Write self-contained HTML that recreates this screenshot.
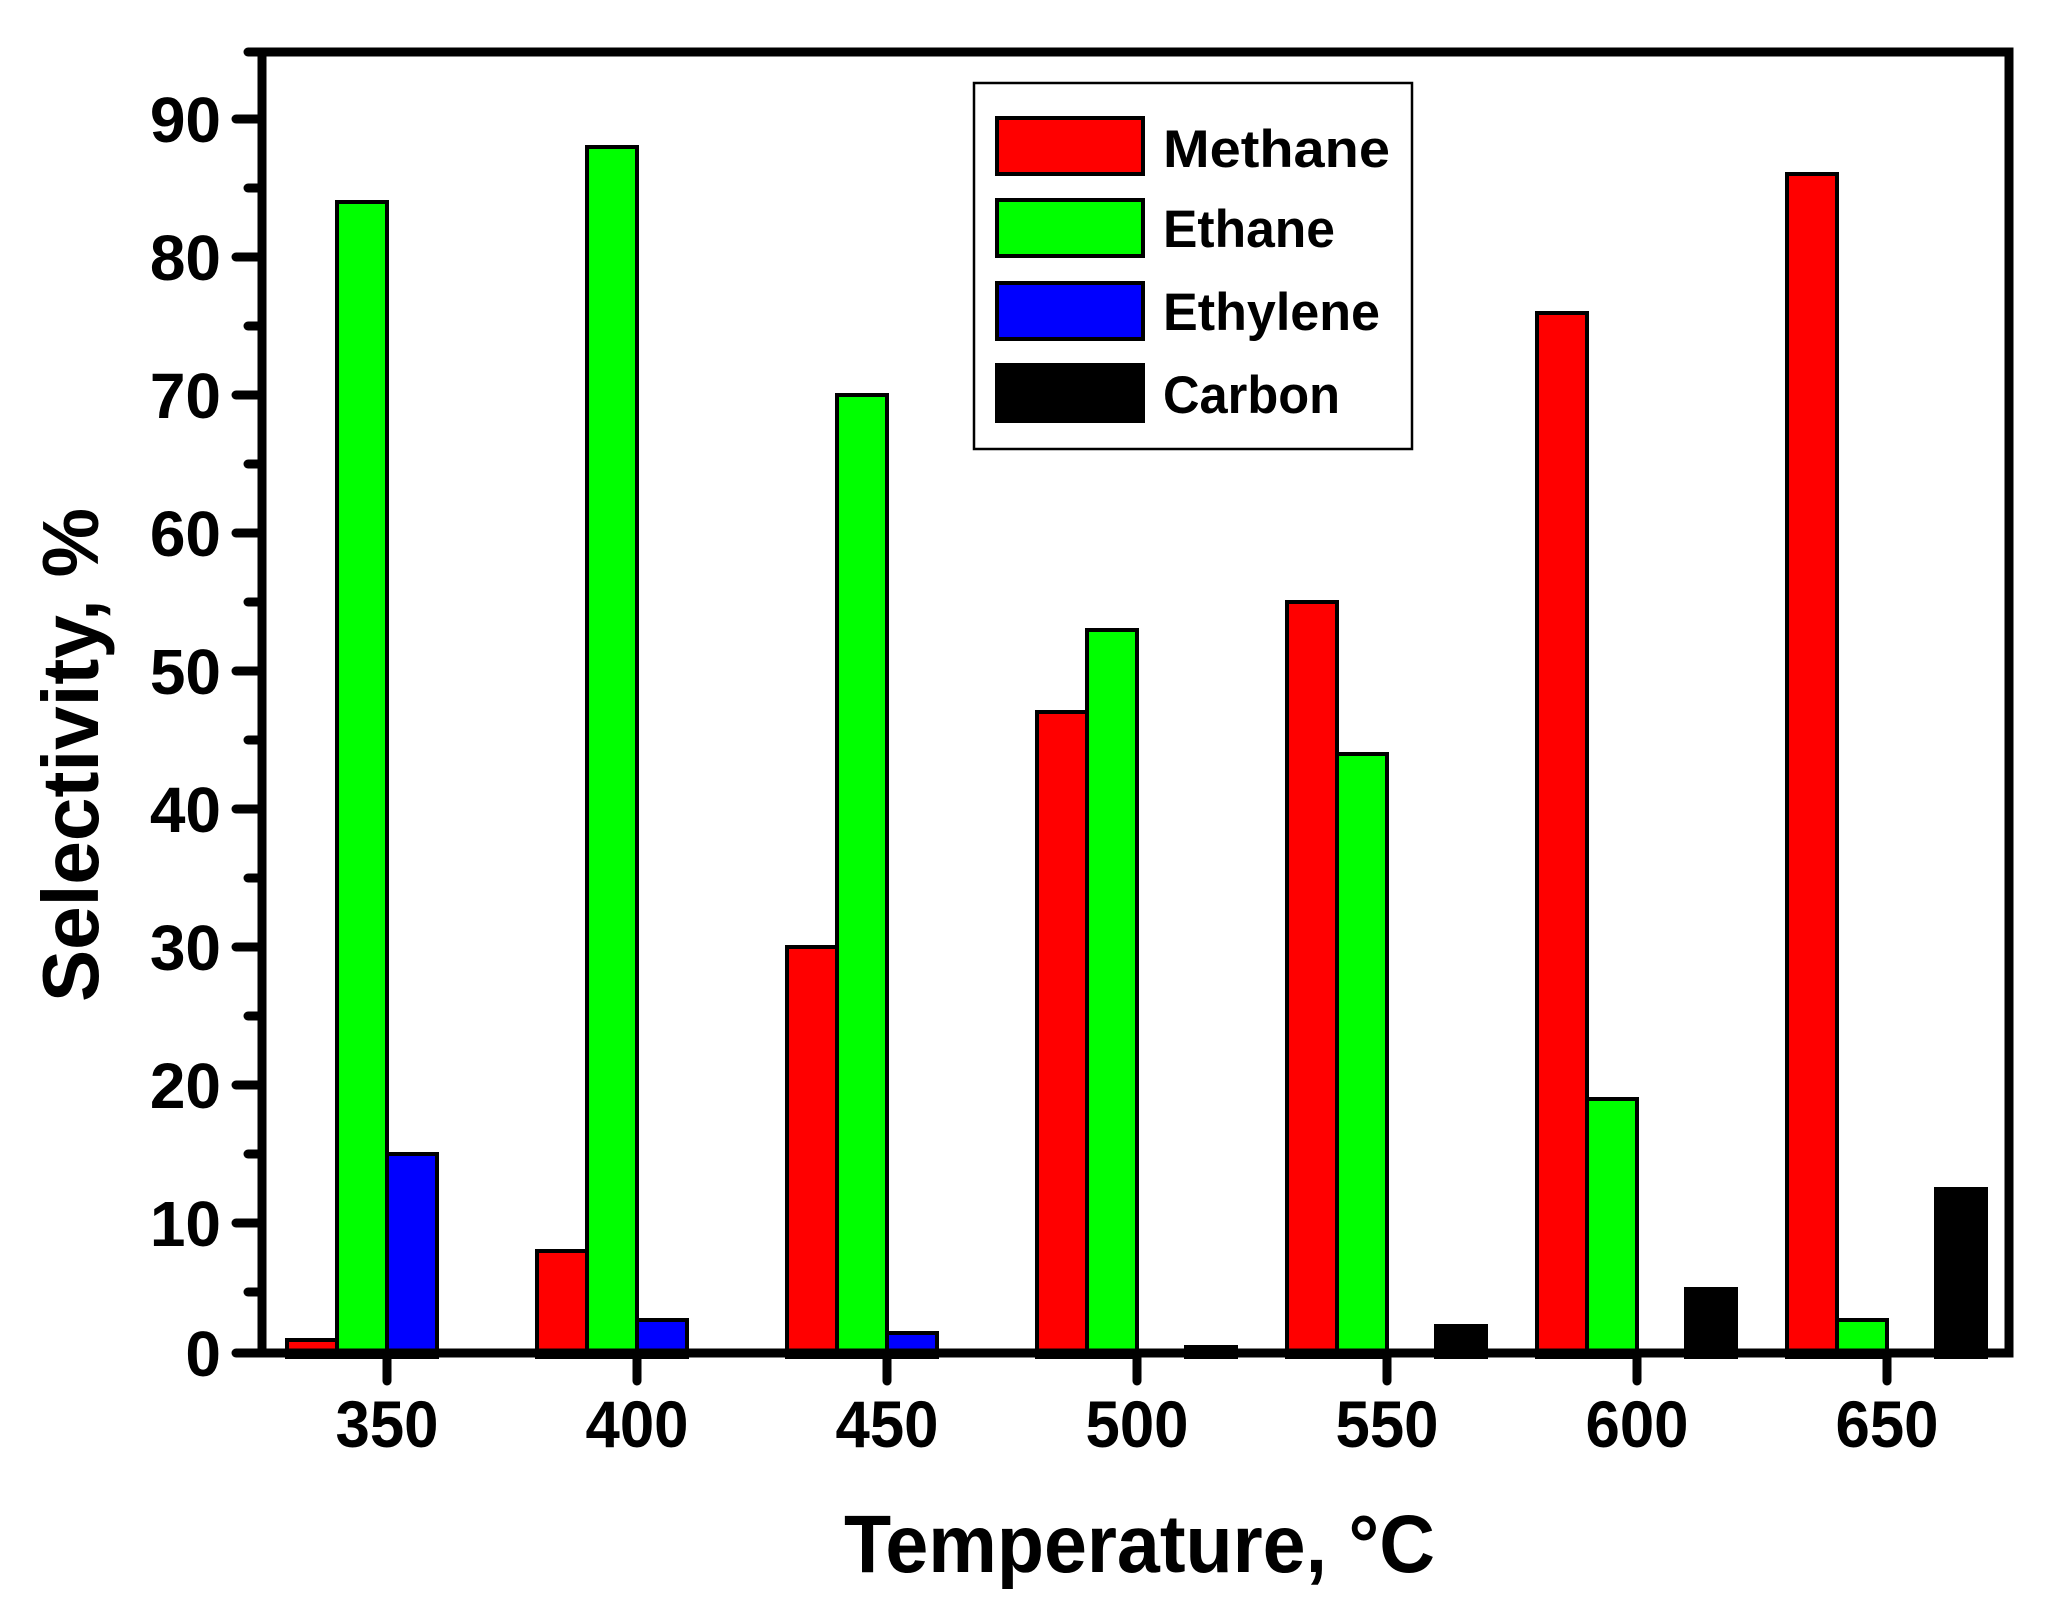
<!DOCTYPE html>
<html><head><meta charset="utf-8"><style>html,body{margin:0;padding:0;background:#fff}svg{display:block}</style></head>
<body>
<svg width="2050" height="1616" viewBox="0 0 2050 1616" xmlns="http://www.w3.org/2000/svg" font-family="Liberation Sans, Arial, sans-serif" font-weight="bold">
<rect width="2050" height="1616" fill="#fff"/>
<g stroke="#000" stroke-width="4">
<!-- 350 -->
<rect x="287" y="1340" width="50" height="17" fill="#f00"/>
<rect x="337" y="202" width="50" height="1155" fill="#0f0"/>
<rect x="387" y="1154" width="50" height="203" fill="#00f"/>
<!-- 400 -->
<rect x="537" y="1251" width="50" height="106" fill="#f00"/>
<rect x="587" y="147" width="50" height="1210" fill="#0f0"/>
<rect x="637" y="1320" width="50" height="37" fill="#00f"/>
<!-- 450 -->
<rect x="787" y="947" width="50" height="410" fill="#f00"/>
<rect x="837" y="395" width="50" height="962" fill="#0f0"/>
<rect x="887" y="1333" width="50" height="24" fill="#00f"/>
<!-- 500 -->
<rect x="1037" y="712" width="50" height="645" fill="#f00"/>
<rect x="1087" y="630" width="50" height="727" fill="#0f0"/>
<rect x="1186" y="1347" width="50" height="10" fill="#000"/>
<!-- 550 -->
<rect x="1287" y="602" width="50" height="755" fill="#f00"/>
<rect x="1337" y="754" width="50" height="603" fill="#0f0"/>
<rect x="1436" y="1326" width="50" height="31" fill="#000"/>
<!-- 600 -->
<rect x="1537" y="313" width="50" height="1044" fill="#f00"/>
<rect x="1587" y="1099" width="50" height="258" fill="#0f0"/>
<rect x="1686" y="1289" width="50" height="68" fill="#000"/>
<!-- 650 -->
<rect x="1787" y="174" width="50" height="1183" fill="#f00"/>
<rect x="1837" y="1320" width="50" height="37" fill="#0f0"/>
<rect x="1936" y="1189" width="50" height="168" fill="#000"/>
</g>
<!-- frame -->
<rect x="262" y="52" width="1747" height="1301" fill="none" stroke="#000" stroke-width="9"/>
<g stroke="#000" stroke-width="9" stroke-linecap="round">
<line x1="236" y1="1353" x2="262" y2="1353"/>
<line x1="236" y1="1223" x2="262" y2="1223"/>
<line x1="236" y1="1085" x2="262" y2="1085"/>
<line x1="236" y1="947" x2="262" y2="947"/>
<line x1="236" y1="809" x2="262" y2="809"/>
<line x1="236" y1="671" x2="262" y2="671"/>
<line x1="236" y1="533" x2="262" y2="533"/>
<line x1="236" y1="395" x2="262" y2="395"/>
<line x1="236" y1="257" x2="262" y2="257"/>
<line x1="236" y1="119" x2="262" y2="119"/>
<line x1="248" y1="1292" x2="262" y2="1292"/>
<line x1="248" y1="1154" x2="262" y2="1154"/>
<line x1="248" y1="1016" x2="262" y2="1016"/>
<line x1="248" y1="878" x2="262" y2="878"/>
<line x1="248" y1="740" x2="262" y2="740"/>
<line x1="248" y1="602" x2="262" y2="602"/>
<line x1="248" y1="464" x2="262" y2="464"/>
<line x1="248" y1="326" x2="262" y2="326"/>
<line x1="248" y1="188" x2="262" y2="188"/>
<line x1="248" y1="52" x2="262" y2="52"/>
<line x1="387" y1="1353" x2="387" y2="1381"/>
<line x1="637" y1="1353" x2="637" y2="1381"/>
<line x1="887" y1="1353" x2="887" y2="1381"/>
<line x1="1137" y1="1353" x2="1137" y2="1381"/>
<line x1="1387" y1="1353" x2="1387" y2="1381"/>
<line x1="1637" y1="1353" x2="1637" y2="1381"/>
<line x1="1887" y1="1353" x2="1887" y2="1381"/>
</g>
<g font-size="64" text-anchor="end">
<text x="221" y="1376">0</text>
<text x="221" y="1246">10</text>
<text x="221" y="1108">20</text>
<text x="221" y="970">30</text>
<text x="221" y="832">40</text>
<text x="221" y="694">50</text>
<text x="221" y="556">60</text>
<text x="221" y="418">70</text>
<text x="221" y="280">80</text>
<text x="221" y="142">90</text>
</g>
<g font-size="66" text-anchor="middle">
<text x="387" y="1447" textLength="103" lengthAdjust="spacingAndGlyphs">350</text>
<text x="637" y="1447" textLength="103" lengthAdjust="spacingAndGlyphs">400</text>
<text x="887" y="1447" textLength="103" lengthAdjust="spacingAndGlyphs">450</text>
<text x="1137" y="1447" textLength="103" lengthAdjust="spacingAndGlyphs">500</text>
<text x="1387" y="1447" textLength="103" lengthAdjust="spacingAndGlyphs">550</text>
<text x="1637" y="1447" textLength="103" lengthAdjust="spacingAndGlyphs">600</text>
<text x="1887" y="1447" textLength="103" lengthAdjust="spacingAndGlyphs">650</text>
</g>
<text x="844" y="1572" font-size="82" textLength="591" lengthAdjust="spacingAndGlyphs">Temperature, °C</text>
<text transform="translate(98,1002) rotate(-90)" font-size="80" textLength="494" lengthAdjust="spacingAndGlyphs">Selectivity, %</text>
<!-- legend -->
<rect x="974" y="83" width="438" height="366" fill="#fff" stroke="#000" stroke-width="2.5"/>
<g stroke="#000" stroke-width="4">
<rect x="997" y="118" width="146" height="56" fill="#f00"/>
<rect x="997" y="200" width="146" height="56" fill="#0f0"/>
<rect x="997" y="283" width="146" height="56" fill="#00f"/>
<rect x="997" y="365" width="146" height="56" fill="#000"/>
</g>
<g font-size="53">
<text x="1163" y="167" textLength="227" lengthAdjust="spacingAndGlyphs">Methane</text>
<text x="1163" y="247" textLength="172" lengthAdjust="spacingAndGlyphs">Ethane</text>
<text x="1163" y="330" textLength="217" lengthAdjust="spacingAndGlyphs">Ethylene</text>
<text x="1163" y="413" textLength="177" lengthAdjust="spacingAndGlyphs">Carbon</text>
</g>
</svg>
</body></html>
